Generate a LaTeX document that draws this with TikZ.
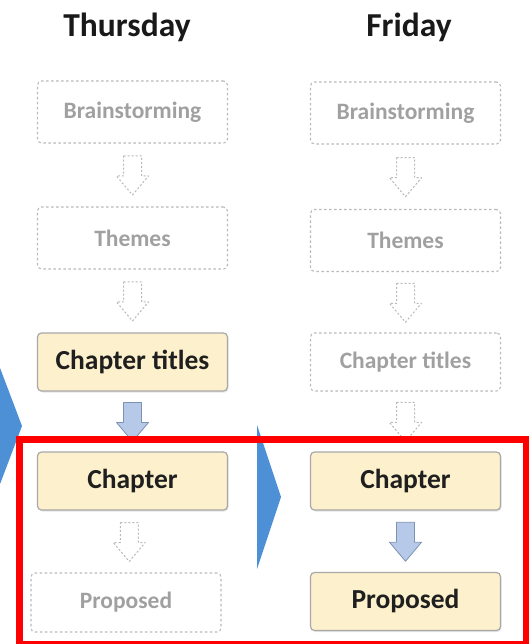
\documentclass[tikz,border=0pt]{standalone}
\usepackage{fontspec}
\setmainfont{Carlito}
\usetikzlibrary{calc,shadows}

\definecolor{boxfill}{RGB}{253,240,204}
\definecolor{boxline}{RGB}{168,168,168}
\definecolor{ghostline}{RGB}{185,185,185}
\definecolor{ghosttext}{RGB}{160,160,160}
\definecolor{arrowfill}{RGB}{182,201,232}
\definecolor{arrowline}{RGB}{125,145,178}
\definecolor{dayblue}{RGB}{78,144,214}
\definecolor{markred}{RGB}{255,0,0}

\tikzset{
  daytitle/.style={font=\bfseries\fontsize{33.5}{38}\selectfont, text=black!90},
  stagebox/.style={draw=boxline, fill=boxfill, line width=1.2pt, rounded corners=4pt,
    minimum width=190pt, minimum height=58pt, inner sep=0pt,
    font=\bfseries\fontsize{27.5}{32}\selectfont, text=black!88,
    drop shadow={opacity=0.2, shadow xshift=1pt, shadow yshift=-1.5pt}},
  ghostbox/.style={draw=ghostline, dash pattern=on 2.5pt off 2.5pt, line width=1.1pt,
    rounded corners=4pt, minimum width=190pt, minimum height=62pt, inner sep=0pt,
    font=\bfseries\fontsize{23.5}{28}\selectfont, text=ghosttext},
  flowfill/.style={draw=arrowline, fill=arrowfill, line width=0.8pt, line join=round},
  flowghost/.style={draw=ghostline, fill=white, dash pattern=on 2pt off 2pt, line width=1pt, line join=round},
}

% block arrow half way between two stacked boxes
\newcommand{\stagearrow}[3]{%
  \path ($(#2.south)!0.5!(#3.north)$) coordinate (#2-#3);
  \draw[#1] ([shift={(-9,-19)}]#2-#3) -- ([shift={(9,-19)}]#2-#3)
    -- ([shift={(9,1)}]#2-#3) -- ([shift={(16,1)}]#2-#3)
    -- ([shift={(0,20)}]#2-#3) -- ([shift={(-16,1)}]#2-#3)
    -- ([shift={(-9,1)}]#2-#3) -- cycle;
}

\begin{document}
\begin{tikzpicture}[x=1pt,y=-1pt]

    % --- Frame ---
    \useasboundingbox (0,0) rectangle (529,644);
    \clip (0,0) rectangle (529,644);

    % --- Day chevrons ---
    \fill[dayblue] (-6,352) -- (22,426) -- (-6,500) -- cycle;
    \fill[dayblue] (257,425) -- (281,497) -- (257,569) -- cycle;

    % --- Day titles ---
    \node[daytitle] (thu) at (127,27) {Thursday};
    \node[daytitle] (fri) at (409,27) {Friday};

    % --- Thursday column ---
    \node[ghostbox] (thuBrain) at (132.5,112) {Brainstorming};
    \node[ghostbox] (thuThemes) at (132.5,238) {Themes};
    \node[stagebox] (thuTitles) at (132.5,362) {Chapter titles};
    \node[stagebox] (thuChapter) at (132.5,481) {Chapter};
    \node[ghostbox, minimum height=59pt] (thuProposed) at (126,602.5) {Proposed};

    % --- Friday column ---
    \node[ghostbox] (friBrain) at (405.5,113) {Brainstorming};
    \node[ghostbox] (friThemes) at (405.5,240.5) {Themes};
    \node[ghostbox, minimum height=58pt] (friTitles) at (405.5,362) {Chapter titles};
    \node[stagebox] (friChapter) at (405.5,481) {Chapter};
    \node[stagebox] (friProposed) at (405.5,601.5) {Proposed};

    % --- Arrows between stages ---
    \stagearrow{flowghost}{thuBrain}{thuThemes}
    \stagearrow{flowghost}{thuThemes}{thuTitles}
    \stagearrow{flowfill}{thuTitles}{thuChapter}
    \stagearrow{flowghost}{thuChapter}{thuProposed}

    \stagearrow{flowghost}{friBrain}{friThemes}
    \stagearrow{flowghost}{friThemes}{friTitles}
    \stagearrow{flowghost}{friTitles}{friChapter}
    \stagearrow{flowfill}{friChapter}{friProposed}

    % --- Highlight ---
    \draw[markred, line width=7pt] (19,439) rectangle (526,644);

\end{tikzpicture}
\end{document}
